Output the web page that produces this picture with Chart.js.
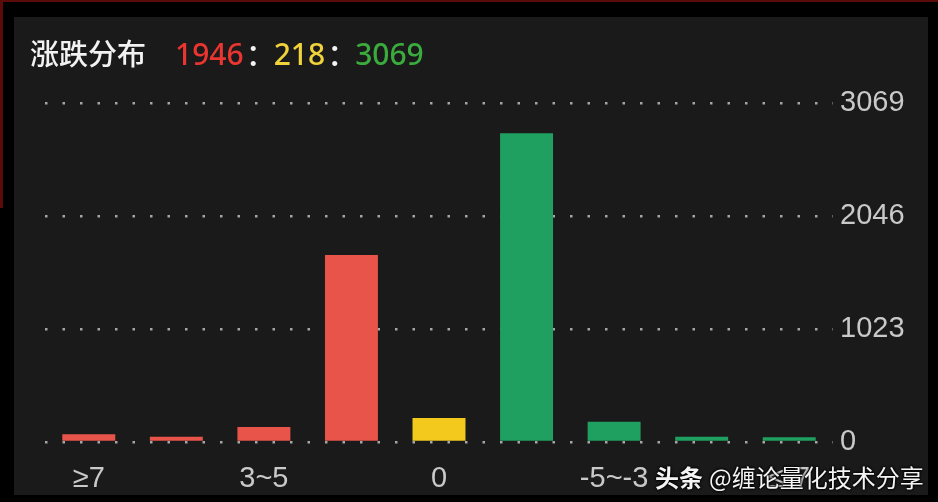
<!DOCTYPE html>
<html>
<head>
<meta charset="utf-8">
<script src="https://cdn.jsdelivr.net/npm/chart.js@4.4.1/dist/chart.umd.min.js"></script>
<style>
  html, body { margin: 0; padding: 0; background: #000; }
  #frame { position: relative; width: 938px; height: 502px; overflow: hidden; background: #000; }
  #edge-top { position: absolute; left: 0; top: 0; width: 938px; height: 2px; background: #5c0b0b; }
  #edge-left { position: absolute; left: 0; top: 0; width: 3px; height: 208px; background: #5c0b0b; }
  #panel { position: absolute; left: 14px; top: 17px; width: 914px; height: 478px; background: #1a1a1a; }
  #chart { position: absolute; left: 0; top: 0; }
  #title { position: absolute; left: 30px; top: 36px; height: 32px; line-height: 32px; font-size: 30px; white-space: nowrap; font-family: "Noto Sans", sans-serif; font-weight: 500; }
  #title .name { font-family: "Noto Sans CJK SC", sans-serif; font-weight: 500; font-size: 29px; color: #f2f2f2; margin-right: 29px; }
  #title .sep { font-family: "Noto Sans CJK SC", sans-serif; color: #f2f2f2; margin: 0 -2px 0 2px; }
  #watermark { position: absolute; left: 655px; top: 462px; height: 30px; line-height: 30px; font-size: 24px; color: #f4f4f4; font-family: "Noto Sans CJK SC", sans-serif; white-space: nowrap; text-shadow: 0 0 3px #000, 0 0 3px #000, 0 0 2px #000; }
  #watermark b { font-weight: 700; margin-right: 6px; }
</style>
</head>
<body>
<div id="frame">
  <div id="edge-top"></div>
  <div id="edge-left"></div>
  <div id="panel"></div>
  <canvas id="chart" width="938" height="502"></canvas>
  <div id="title"></div>
  <div id="watermark"><b>头条</b>@缠论量化技术分享</div>
</div>
<script>
const chartTitle = '涨跌分布';
const categories = ['≥7', '5~7', '3~5', '0~3', '0', '-3~0', '-5~-3', '-7~-5', '≤-7'];
const counts = [70, 48, 136, 1692, 218, 2795, 184, 48, 42];
const barColors = ['#e8534a', '#e8534a', '#e8534a', '#e8534a', '#f3c91d', '#1fa060', '#1fa060', '#1fa060', '#1fa060'];
const yTicks = [0, 1023, 2046, 3069];

const upColor = '#ea3530';
const flatColor = '#f0d23a';
const downColor = '#3aab3c';
const tickColor = '#c9c9c9';

function sumRange(from, to) {
  return counts.slice(from, to).reduce((a, b) => a + b, 0);
}

const upTotal = sumRange(0, 4);
const flatTotal = counts[4];
const downTotal = sumRange(5, 9);

const titleEl = document.getElementById('title');
titleEl.innerHTML =
  `<span class="name">${chartTitle}</span>` +
  `<span style="color:${upColor}">${upTotal}</span><span class="sep">：</span>` +
  `<span style="color:${flatColor}">${flatTotal}</span><span class="sep">：</span>` +
  `<span style="color:${downColor}">${downTotal}</span>`;

const ctx = document.getElementById('chart').getContext('2d');

new Chart(ctx, {
  type: 'bar',
  data: {
    labels: categories,
    datasets: [
      {
        data: counts,
        backgroundColor: barColors,
        borderWidth: 0,
        categoryPercentage: 1,
        barPercentage: 0.605
      }
    ]
  },
  options: {
    responsive: false,
    animation: false,
    layout: {
      padding: { left: 45, top: 103, right: 0, bottom: 0 }
    },
    plugins: {
      legend: { display: false },
      tooltip: { enabled: false }
    },
    scales: {
      x: {
        grid: { display: false, drawTicks: false },
        border: { display: false },
        afterFit(axis) {
          axis.height = 60;
        },
        ticks: {
          autoSkip: false,
          maxRotation: 0,
          padding: 20,
          color: tickColor,
          font: { family: '"Liberation Sans", Arial, sans-serif', size: 29 },
          callback(value, index) {
            return index % 2 === 0 ? categories[index] : '';
          }
        }
      },
      y: {
        position: 'right',
        min: 0,
        max: yTicks[yTicks.length - 1],
        afterBuildTicks(axis) {
          axis.ticks = yTicks.map((v) => ({ value: v }));
        },
        afterFit(axis) {
          axis.width = 105;
        },
        grid: {
          drawTicks: false,
          color: '#a6a6a6',
          lineWidth: 2.5
        },
        border: { display: false, dash: [2.5, 15] },
        ticks: {
          padding: 7,
          color: tickColor,
          font: { family: '"Liberation Sans", Arial, sans-serif', size: 29 },
          callback(value) {
            return String(value);
          }
        }
      }
    }
  }
});
</script>
</body>
</html>
